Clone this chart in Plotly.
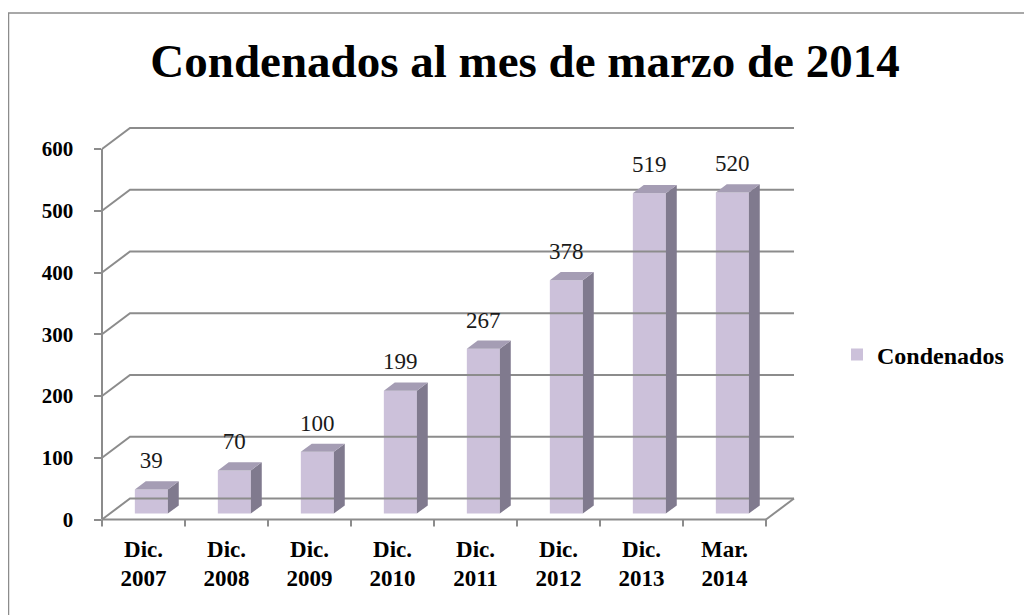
import plotly.graph_objects as go

# ---------------- data ----------------
categories = ["Dic.<br>2007", "Dic.<br>2008", "Dic.<br>2009", "Dic.<br>2010",
              "Dic.<br>2011", "Dic.<br>2012", "Dic.<br>2013", "Mar.<br>2014"]
values = [39, 70, 100, 199, 267, 378, 519, 520]
y_ticks = [0, 100, 200, 300, 400, 500, 600]
series_name = "Condenados"
title_text = "Condenados al mes de marzo de 2014"

# ---------------- geometry / style ----------------
OFF = 8                 # page body margin
W, H = 1032, 615
PX_PER_CAT = 83.0
X0_PX = 143.5 - OFF     # first category centre on the front axis
Y0_PX = 519.5 - OFF     # value 0 on the front axis
PX_PER_UNIT = 0.6175
XR = [-X0_PX / PX_PER_CAT, (W - X0_PX) / PX_PER_CAT]
YR = [(Y0_PX - H) / PX_PER_UNIT, Y0_PX / PX_PER_UNIT]
DX = 28 / PX_PER_CAT    # depth vector (x)
DY = 21 / PX_PER_UNIT   # depth vector (y)
F1, F2 = 0.28, 0.67     # bar front / back depth fractions
BW = 33 / PX_PER_CAT
LABEL_GAP = 27 / PX_PER_UNIT

FONT = "Liberation Serif, Times New Roman, Times, serif"
GRID = "#8c8c8c"
FRONT = "#ccc1da"
SIDE = "#807a8e"
TOP = "#a59db4"

n = len(values)
left, right = -0.5, n - 0.5
ymax = max(y_ticks)

fig = go.Figure()

# back wall gridlines + left diagonals
gx, gy = [], []
for v in y_ticks:
    gx += [left, left + DX, right + DX, None]
    gy += [v, v + DY, v + DY, None]
# right floor edge, floor front edge, front vertical axis
gx += [right, right + DX, None, left, right, None, left, left, None]
gy += [0, DY, None, 0, 0, None, 0, ymax, None]
# category tick marks on the front floor edge
tick_len = 7 / PX_PER_UNIT
for k in range(n + 1):
    gx += [left + k, left + k, None]
    gy += [0, -tick_len, None]
fig.add_trace(go.Scatter(x=gx, y=gy, mode="lines", line=dict(color=GRID, width=2),
                         hoverinfo="skip", showlegend=False))

# bars (front faces)
base = F1 * DY
xc = [i + F1 * DX for i in range(n)]
fig.add_trace(go.Bar(x=xc, y=values, base=base, width=BW, name=series_name,
                     marker=dict(color=FRONT, line=dict(width=0)),
                     showlegend=True))

# side faces and top faces
bdx, bdy = (F2 - F1) * DX, (F2 - F1) * DY
sx, sy, tx, ty = [], [], [], []
for c, v in zip(xc, values):
    xl, xr_ = c - BW / 2, c + BW / 2
    top = base + v
    sx += [xr_, xr_ + bdx, xr_ + bdx, xr_, xr_, None]
    sy += [base, base + bdy, top + bdy, top, base, None]
    tx += [xl, xl + bdx, xr_ + bdx, xr_, xl, None]
    ty += [top, top + bdy, top + bdy, top, top, None]
fig.add_trace(go.Scatter(x=sx, y=sy, mode="lines", fill="toself", fillcolor=SIDE,
                         line=dict(width=0, color=SIDE), hoverinfo="skip", showlegend=False))
fig.add_trace(go.Scatter(x=tx, y=ty, mode="lines", fill="toself", fillcolor=TOP,
                         line=dict(width=0, color=TOP), hoverinfo="skip", showlegend=False))

# data labels
fig.add_trace(go.Scatter(x=xc, y=[base + v + LABEL_GAP for v in values], mode="text",
                         text=[str(v) for v in values], textposition="middle center",
                         textfont=dict(family=FONT, size=23, color="#1a1a1a"),
                         hoverinfo="skip", showlegend=False))

fig.update_layout(
    width=W, height=H, autosize=False,
    margin=dict(l=0, r=0, t=0, b=0),
    paper_bgcolor="white", plot_bgcolor="white",
    font=dict(family=FONT),
    title=dict(text="<b>" + title_text + "</b>", x=(525 - OFF) / W, xanchor="center",
               y=1 - (61 - OFF) / H, yanchor="middle",
               font=dict(family=FONT, size=47, color="black")),
    xaxis=dict(range=XR, anchor="free", position=(H - Y0_PX) / H,
               tickvals=list(range(n)), ticktext=categories, ticks="",
               showgrid=False, zeroline=False, showline=False,
               ticklabelstandoff=13,
               tickfont=dict(family=FONT, size=23, color="black", weight="bold")),
    yaxis=dict(range=YR, anchor="free", position=(100.5 - OFF) / W,
               tickvals=y_ticks, ticks="outside", ticklen=7, tickwidth=2, tickcolor=GRID,
               showgrid=False, zeroline=False, showline=False,
               ticklabelstandoff=16,
               tickfont=dict(family=FONT, size=21, color="black", weight="bold")),
    barmode="overlay",
    showlegend=True,
    legend=dict(x=(837 - OFF) / W, y=1 - (355 - OFF) / H, xanchor="left", yanchor="middle",
                font=dict(family=FONT, size=24, color="black", weight="bold"),
                bgcolor="rgba(0,0,0,0)", itemwidth=30),
    shapes=[dict(type="rect", xref="paper", yref="paper",
                 x0=(8.5 - OFF) / W, y0=1 - (13 - OFF) / H, x1=1.02, y1=-0.02,
                 line=dict(color="#8c8c8c", width=1.5), layer="above")],
)

fig.write_html("out.html")
